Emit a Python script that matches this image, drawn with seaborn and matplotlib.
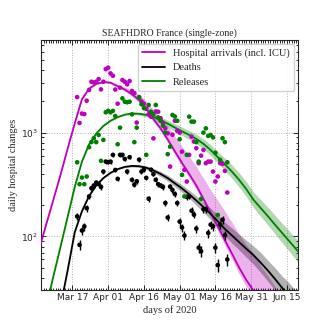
import numpy as np
import pandas as pd
import matplotlib
matplotlib.use("Agg")
import matplotlib.pyplot as plt
import matplotlib.dates as mdates
from matplotlib.ticker import LogLocator, NullFormatter, FixedLocator
import seaborn as sns

# ---------------- data ----------------
obs_start = "2020-03-19"
hosp_obs = [2200, 1240, 1525, 1510, 2030, 2575, 3090, 3040, 3090, 3280, 2610, 3090, 4090,
            4220, 3720, 3530, 2600, 1900, 2710, 3210, 3090, 2920, 3140, 2520, 2400, 1250, 2200,
            2000, 1900, 1700, 1500, 1425, 880, 1600, 1590, 1375, 1250, 1100, 985, 471, 955, 1300, 1040,
            1000, 656, 437, 338, 611, 915, 820, 708, 508, 600, 682, 508, 526, 526, 422, 338, 378,
            508, 500, 428, 265]
rel_obs = [518, 319, 369, 319, 378, 724, 810, 883, 810, 950, 535, 851, 1570,
           1620, 1570, 1620, 1446, 773, 1117, 2140, 1985, 1960, 1985, 1500, 810, 1117, 2170,
           1875, 1720, 611, 1846, 1590, 1500, 1846, 1400, 1300, 1167, 1000, 620, 733, 1480, 1430, 1300,
           863, 392, 243, 611, 1425, 1276, 1276, 810, 526, 230, 1000, 1100, 930, 950, 900, 640, 161,
           547, 883, 810, 518]
death_obs = [156, 83, 114, 125, 187, 243, 292, 310, 330, 320, 300, 422, 526,
             520, 526, 611, 437, 359, 611, 611, 558, 422, 580, 351, 315, 340, 550,
             422, 440, 367, 231, 440, 398, 351, 319, 309, 300, 210, 152, 302, 280, 256, 210,
             139, 122, 102, 240, 243, 177, 162, 119, 78, 72, 183, 183, 108, 130, 125, 78, 53,
             130, 145, 103, 60]

model_start, model_end = "2020-03-03", "2020-06-22"
hosp_model = [75, 130, 225, 390, 700, 1230, 2100, 2650, 2950, 3070,
              3030, 2800, 2600, 2340, 2060, 1720, 1350, 1100, 860, 660,
              510, 400, 310, 230, 170, 125, 92, 68, 50, 38,
              30, 23, 18, 14, 11, 8.5, 6.6, 5.2]
hosp_lo = [74, 128, 222, 385, 690, 1210, 2070, 2610, 2900, 3010,
           2960, 2720, 2510, 2240, 1945, 1624, 1266, 1026, 803, 613,
           472, 369, 285, 210, 154, 112.5, 82, 60, 43.5, 32.7,
           25.5, 19.4, 15, 11.5, 9, 7, 5.4, 4.2]
hosp_hi = [76, 132, 228, 395, 710, 1250, 2130, 2690, 3000, 3130,
           3110, 2900, 2750, 2540, 2311, 2021, 1661, 1417, 1160, 921,
           737, 592, 469, 365, 282, 222, 175, 136, 104.5, 83,
           68.7, 52, 42, 33, 27, 21.5, 17, 13.5]

rel_model = [11, 21, 41, 79, 154, 300, 525, 770, 980, 1160,
             1300, 1410, 1490, 1530, 1520, 1480, 1420, 1320, 1220, 1120,
             1030, 950, 870, 780, 680, 580, 495, 420, 350, 285,
             225, 188, 157, 130, 108, 90, 75, 63]
rel_lo = [11, 21, 41, 79, 153, 298, 521, 764, 972, 1150,
          1289, 1397, 1473, 1496, 1469, 1414, 1341, 1231, 1129, 1028,
          940, 860, 782, 697, 603, 511, 431, 362, 299, 242,
          189, 156, 129, 106, 87, 72, 59, 49]
rel_hi = [11, 21, 41, 79, 155, 302, 529, 776, 988, 1170,
          1311, 1423, 1507, 1565, 1573, 1550, 1504, 1415, 1319, 1220,
          1129, 1049, 967, 873, 766, 658, 568, 487, 409, 336,
          268, 226, 191, 160, 134, 113, 95, 80]

death_model = [1.9, 4.2, 9.4, 21, 47, 110, 175, 245, 310, 365,
               410, 445, 468, 478, 475, 460, 432, 400, 365, 325,
               290, 255, 222, 192, 165, 140, 118, 102, 88, 76,
               66, 56, 47, 39, 32, 27, 22, 18.5]
death_lo = [1.9, 4.2, 9.4, 21, 46.5, 109, 173, 242, 306, 361,
            405, 440, 459, 467, 461, 443, 413, 378, 342, 302,
            267, 233, 200, 171, 145, 122, 101, 86, 74, 63,
            54, 45, 37, 30.4, 24.6, 20.5, 16.5, 13.7]
death_hi = [1.9, 4.2, 9.4, 21, 47.5, 111, 177, 248, 314, 369,
            415, 450, 477, 489, 489, 477, 452, 423, 389, 350,
            315, 279, 246, 215, 187, 161, 137, 120, 105, 92,
            81, 70, 59, 50, 41.6, 35.6, 29.4, 25]

xtick_dates = ["2020-03-17", "2020-04-01", "2020-04-16", "2020-05-01",
               "2020-05-16", "2020-05-31", "2020-06-15"]
labels = ["Hospital arrivals (incl. ICU)", "Deaths", "Releases"]
colors = ["#bf00bf", "black", "green"]

# ---------------- style ----------------
sns.set_style("ticks")
serif = ["Liberation Serif", "DejaVu Serif"]
plt.rcParams["font.family"] = ["DejaVu Sans"]
plt.rcParams["xtick.direction"] = "in"
plt.rcParams["ytick.direction"] = "in"

obs_dates = pd.date_range(obs_start, periods=len(hosp_obs), freq="D")
model_dates = pd.date_range(model_start, model_end, freq="3D")

fig = plt.figure(figsize=(3.32, 3.32), dpi=100)
ax = fig.add_axes([0.1235, 0.1265, 0.7741, 0.753])

series = [
    (hosp_model, hosp_lo, hosp_hi, hosp_obs, colors[0], labels[0]),
    (death_model, death_lo, death_hi, death_obs, colors[1], labels[1]),
    (rel_model, rel_lo, rel_hi, rel_obs, colors[2], labels[2]),
]
for mod, lo, hi, obs, c, lab in series:
    ax.fill_between(model_dates, lo, hi, color=c, alpha=0.3, lw=0, zorder=1)
for mod, lo, hi, obs, c, lab in series:
    sns.lineplot(x=model_dates, y=mod, color=c, lw=1.3, label=lab, ax=ax, zorder=3)

ax.errorbar(obs_dates, death_obs, yerr=np.sqrt(death_obs), fmt="none",
            ecolor="black", elinewidth=1.0, zorder=4)
for mod, lo, hi, obs, c, lab in series:
    sns.scatterplot(x=obs_dates, y=obs, color=c, s=11, edgecolor="none",
                    ax=ax, zorder=5, legend=False)

ax.set_yscale("log")
ax.set_ylim(30.5, 7800)
ax.set_xlim(pd.Timestamp("2020-03-03 20:00"), pd.Timestamp("2020-06-19 16:00"))

ax.xaxis.set_major_locator(FixedLocator(mdates.date2num(pd.to_datetime(xtick_dates))))
ax.xaxis.set_major_formatter(mdates.DateFormatter("%b %d"))
ax.xaxis.set_minor_locator(mdates.DayLocator())
ax.yaxis.set_major_locator(LogLocator(base=10, numticks=10))
ax.yaxis.set_minor_locator(LogLocator(base=10, subs=np.arange(2, 10), numticks=20))
ax.yaxis.set_minor_formatter(NullFormatter())

ax.tick_params(which="both", direction="in", top=True, right=True, labelsize=6.5,
               width=0.7, pad=2.5)
ax.tick_params(which="major", length=3.5)
ax.tick_params(which="minor", length=1.8)
for s in ax.spines.values():
    s.set_linewidth(0.8)
ax.grid(True, which="major", ls=":", color="0.7", lw=0.7)
ax.set_axisbelow(True)

ax.set_title("SEAFHDRO France (single-zone)", fontsize=7, family=serif, pad=3)
ax.set_xlabel("days of 2020", fontsize=7.5, family=serif, labelpad=2)
ax.set_ylabel("daily hospital changes", fontsize=7.5, family=serif, labelpad=2)

leg = ax.legend(loc="upper right", prop={"family": serif, "size": 7.5},
                handlelength=2.2, handletextpad=0.8, borderaxespad=0.4,
                frameon=True, fancybox=True, framealpha=0.9, edgecolor="0.8")
for h in leg.get_lines():
    h.set_linewidth(1.3)

fig.savefig("out.png", dpi=100)
